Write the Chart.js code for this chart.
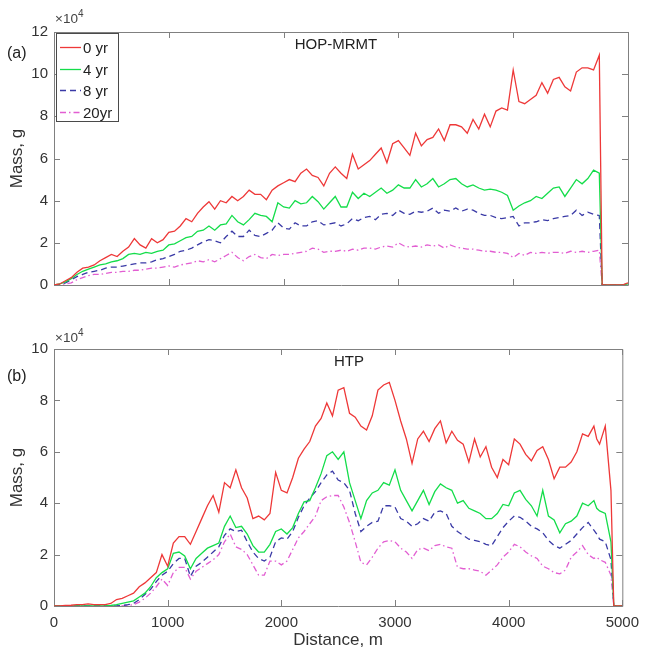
<!DOCTYPE html>
<html>
<head>
<meta charset="utf-8">
<script src="https://cdn.jsdelivr.net/npm/chart.js@4.4.0/dist/chart.umd.min.js"></script>
<style>
  body { margin: 0; background: #fff; }
  #wrap { position: relative; width: 647px; height: 656px; font-family: "Liberation Sans", Arial, sans-serif; color: #333; }
  #wrap canvas { position: absolute; left: 0; }
  .lbl { position: absolute; white-space: nowrap; line-height: 1; }
  .mid { transform: translateX(-50%); }
  .exp { font-size: 10px; position: relative; top: -6px; }
</style>
</head>
<body>
<div id="wrap">
  <canvas id="hopChart" width="647" height="300" style="top:0"></canvas>
  <canvas id="htpChart" width="647" height="336" style="top:320px"></canvas>
  <div class="lbl" style="left:7px;top:45px;font-size:16px;color:#222">(a)</div>
  <div class="lbl" style="left:55px;top:12px;font-size:13.5px;color:#444">×10<span class="exp">4</span></div>
  <div class="lbl mid" style="left:336px;top:36px;font-size:15px;color:#222">HOP-MRMT</div>
  <div class="lbl" style="left:7px;top:368px;font-size:16px;color:#222">(b)</div>
  <div class="lbl" style="left:55px;top:331px;font-size:13.5px;color:#444">×10<span class="exp">4</span></div>
  <div class="lbl mid" style="left:349px;top:353px;font-size:15px;color:#222">HTP</div>
</div>
<script>
// distance along the profile, m
const distance = [
  0, 50, 100, 150, 200, 250, 300, 350, 400, 450,
  500, 550, 600, 650, 700, 750, 800, 850, 900, 950,
  1000, 1050, 1100, 1150, 1200, 1250, 1300, 1350, 1400, 1450,
  1500, 1550, 1600, 1650, 1700, 1750, 1800, 1850, 1900, 1950,
  2000, 2050, 2100, 2150, 2200, 2250, 2300, 2350, 2400, 2450,
  2500, 2550, 2600, 2650, 2700, 2750, 2800, 2850, 2900, 2950,
  3000, 3050, 3100, 3150, 3200, 3250, 3300, 3350, 3400, 3450,
  3500, 3550, 3600, 3650, 3700, 3750, 3800, 3850, 3900, 3950,
  4000, 4050, 4100, 4150, 4200, 4250, 4300, 4350, 4400, 4450,
  4500, 4550, 4600, 4650, 4700, 4750, 4775, 4800, 4850, 4900, 4925, 4950, 5000
];

const seriesLabels = ['0 yr', '4 yr', '8 yr', '20yr'];

// (a) HOP-MRMT, mass in units of 1e4 g
const hop0 = [
  0, 0.05, 0.2, 0.35, 0.6, 0.8, 0.85, 0.95, 1.15, 1.3,
  1.45, 1.35, 1.6, 1.8, 2.2, 1.9, 1.75, 2.2, 2.0, 2.15,
  2.5, 2.55, 2.8, 3.15, 3.0, 3.4, 3.7, 3.95, 3.6, 4.0,
  3.9, 4.2, 4.0, 4.2, 4.5, 4.3, 4.3, 4.05, 4.5, 4.7,
  4.85, 5.0, 4.9, 5.3, 5.5, 5.2, 5.1, 4.7, 5.3, 5.6,
  5.3, 5.05, 6.2, 5.5, 5.7, 5.9, 6.2, 6.5, 5.8, 6.7,
  6.85, 6.5, 6.15, 7.2, 6.6, 6.9, 7.0, 7.4, 6.85, 7.6,
  7.6, 7.5, 7.2, 7.85, 7.4, 8.1, 7.5, 8.25, 8.4, 8.3,
  10.2, 8.7, 8.6, 8.8, 9.0, 9.6, 9.1, 9.75, 9.85, 9.4,
  9.2, 10.1, 10.3, 10.3, 10.2, 10.9, 0, 0, 0, 0, 0, 0, 0.1
];
const hop4 = [
  0, 0.05, 0.15, 0.3, 0.5, 0.65, 0.75, 0.85, 0.95, 1.0,
  1.1, 1.15, 1.25, 1.45, 1.5, 1.45, 1.55, 1.5, 1.6, 1.65,
  1.9, 1.95, 2.1, 2.25, 2.3, 2.55, 2.6, 2.8, 2.6, 2.85,
  2.9, 3.3, 3.0, 2.85, 3.1, 3.4, 3.3, 3.25, 3.0, 3.9,
  3.7, 3.65, 4.0, 3.85, 3.9, 4.2, 3.95, 3.6, 3.9, 4.2,
  3.7, 3.7, 4.4, 4.1, 4.35, 4.2, 4.4, 4.6, 4.35, 4.5,
  4.75, 4.6, 4.6, 5.0, 4.65, 4.8, 5.05, 4.65, 4.8, 5.0,
  5.05, 4.8, 4.65, 4.75, 4.6, 4.5, 4.55, 4.5, 4.4, 4.25,
  3.55, 3.75, 3.9, 4.0, 4.2, 4.1, 4.35, 4.6, 4.65, 4.2,
  4.6, 5.0, 4.8, 5.05, 5.45, 5.3, 0, 0, 0, 0, 0, 0, 0.05
];
const hop8 = [
  0, 0.03, 0.1, 0.25, 0.4, 0.5, 0.6, 0.65, 0.7, 0.8,
  0.85, 0.85, 0.9, 0.95, 1.0, 1.05, 1.05, 1.1, 1.2, 1.25,
  1.35, 1.45, 1.6, 1.65, 1.75, 1.9, 2.05, 2.15, 2.1, 2.0,
  2.3, 2.55, 2.3, 2.3, 2.6, 2.35, 2.3, 2.45, 2.6, 2.95,
  2.7, 2.65, 2.95, 2.8, 2.8, 3.0, 3.05, 2.85, 2.9, 2.95,
  2.8, 2.9, 3.15, 3.05, 3.2, 3.25, 3.1, 3.35, 3.4, 3.3,
  3.55, 3.4, 3.35, 3.5, 3.45, 3.5, 3.65, 3.4, 3.55, 3.5,
  3.65, 3.5, 3.6, 3.55, 3.4, 3.3, 3.3, 3.2, 3.15, 3.2,
  3.25, 2.8, 2.95, 2.95, 3.0, 3.1, 3.05, 3.15, 3.2, 3.25,
  3.3, 3.55, 3.3, 3.45, 3.35, 3.3, 0, 0, 0, 0, 0, 0, 0.05
];
const hop20 = [
  0, 0.02, 0.05, 0.1, 0.25, 0.35, 0.45, 0.5, 0.5, 0.55,
  0.6, 0.6, 0.65, 0.65, 0.7, 0.7, 0.75, 0.8, 0.8, 0.85,
  0.9, 0.85, 0.95, 1.0, 1.05, 1.15, 1.1, 1.2, 1.1, 1.25,
  1.4, 1.55, 1.3, 1.15, 1.35, 1.45, 1.3, 1.25, 1.45, 1.4,
  1.45, 1.45, 1.5, 1.55, 1.6, 1.75, 1.7, 1.55, 1.6, 1.6,
  1.65, 1.6, 1.7, 1.65, 1.75, 1.75, 1.7, 1.8, 1.85, 1.8,
  2.0, 1.85, 1.8, 1.85, 1.8, 1.9, 1.85, 1.9, 1.75, 1.9,
  1.8, 1.75, 1.7, 1.7, 1.65, 1.6, 1.6, 1.55, 1.55, 1.5,
  1.3, 1.5, 1.4, 1.55, 1.5, 1.55, 1.5, 1.55, 1.55, 1.5,
  1.6, 1.55, 1.6, 1.55, 1.6, 1.65, 0, 0, 0, 0, 0, 0, 0.05
];

// (b) HTP, mass in units of 1e4 g
const htp0 = [
  0, 0, 0.02, 0.03, 0.05, 0.05, 0.08, 0.05, 0.05, 0.05,
  0.1, 0.25, 0.3, 0.4, 0.5, 0.75, 0.9, 1.1, 1.3, 2.0,
  1.55, 2.45, 2.7, 2.7, 2.4, 2.9, 3.4, 3.9, 4.3, 3.65,
  4.8, 4.6, 5.3, 4.6, 4.2, 3.4, 3.5, 3.35, 3.6, 5.2,
  4.5, 4.4, 5.0, 5.75, 6.1, 6.4, 7.0, 7.3, 7.9, 7.4,
  8.4, 8.5, 7.5, 7.35, 7.0, 6.85, 7.4, 8.4, 8.6, 8.7,
  8.0, 7.2, 6.5, 5.55, 6.5, 6.8, 6.4, 6.9, 7.2, 6.35,
  6.8, 6.45, 6.3, 5.6, 6.5, 5.8, 6.2, 5.4, 5.0, 5.7,
  5.5, 6.5, 6.3, 5.9, 5.65, 6.05, 6.2, 5.7, 4.95, 5.4,
  5.4, 5.6, 6.0, 6.7, 6.6, 7.0, 6.5, 6.3, 7.0, 4.5, 0, 0, 0
];
const htp4 = [
  0, 0, 0, 0, 0, 0, 0, 0, 0, 0,
  0.02, 0.05, 0.1, 0.15, 0.2, 0.35, 0.5, 0.75, 1.1, 1.3,
  1.45, 2.05, 2.1, 1.95, 1.45, 1.85, 2.05, 2.25, 2.35, 2.45,
  3.1, 3.5, 3.05, 3.1, 2.8, 2.35, 2.1, 2.1, 2.4, 2.9,
  3.0, 2.8, 3.05, 3.6, 4.05, 4.1, 4.6, 5.15, 5.85, 6.0,
  5.7, 6.0, 4.8, 4.1, 3.4, 4.1, 4.4, 4.5, 4.8, 4.7,
  5.3, 4.5, 4.1, 3.7, 4.1, 4.5, 3.95, 4.45, 4.75, 4.6,
  4.5, 4.0, 4.1, 3.8, 3.7, 3.6, 3.4, 3.4, 3.6, 3.95,
  3.9, 4.4, 4.5, 4.15, 3.9, 3.5, 4.5, 3.5, 3.35, 2.85,
  3.2, 3.3, 3.5, 4.0, 3.9, 4.1, 3.8, 3.7, 3.6, 2.5, 0, 0, 0
];
const htp8 = [
  0, 0, 0, 0, 0, 0, 0, 0, 0, 0,
  0, 0, 0.02, 0.05, 0.1, 0.25, 0.45, 0.65, 0.95, 1.2,
  1.35, 1.65, 1.85, 1.85, 1.15, 1.55, 1.7, 1.9, 2.1, 2.3,
  2.75, 3.0, 2.9, 2.95, 2.5, 2.1, 1.85, 1.75, 1.9, 2.5,
  2.65, 2.6, 2.9, 3.45, 3.9, 4.2, 4.45, 4.8, 5.1, 5.25,
  4.9, 4.8, 4.5, 3.6, 2.9, 3.1, 3.25, 3.3, 3.9, 3.9,
  3.85, 3.4, 3.3, 3.1, 3.2, 3.4, 3.3, 3.65, 3.7, 3.6,
  3.1, 2.9, 2.75, 2.6, 2.55, 2.5, 2.4, 2.35, 2.7, 3.05,
  3.3, 3.5, 3.45, 3.3, 3.1, 3.0, 2.85, 2.55, 2.35, 2.25,
  2.4, 2.55, 2.8, 3.05, 3.25, 2.95, 2.8, 2.6, 2.5, 1.8, 0, 0, 0
];
const htp20 = [
  0, 0, 0, 0, 0, 0, 0, 0, 0, 0,
  0, 0, 0, 0.02, 0.05, 0.15, 0.3, 0.5, 0.75, 1.05,
  0.8, 1.3, 1.5, 1.5, 1.05, 1.35, 1.5, 1.65, 1.8, 2.0,
  2.5, 2.8, 2.3, 2.2, 2.0, 1.6, 1.2, 1.2, 1.75, 1.75,
  1.6, 1.75, 2.2, 2.65, 2.9, 3.2, 3.5, 4.1, 4.25, 4.3,
  4.3, 3.85, 3.25, 2.5, 1.7, 1.6, 1.9, 2.25, 2.5, 2.55,
  2.5, 2.25, 2.1, 1.85, 2.2, 2.25, 2.15, 2.35, 2.4, 2.3,
  2.25, 1.5, 1.45, 1.45, 1.4, 1.35, 1.2, 1.4, 1.6, 1.9,
  2.1, 2.4, 2.3, 2.1, 1.95, 1.85, 1.55, 1.45, 1.3, 1.25,
  1.4, 1.9, 2.1, 2.35, 2.0, 1.85, 1.9, 1.8, 1.7, 1.2, 0, 0, 0
];

const lineColors = ['#ee3838', '#14dd4a', '#3a3aa6', '#e25ed2'];
const lineDashes = [[], [], [6, 4], [6, 3, 1.5, 3]];

Chart.defaults.font.family = '"Liberation Sans", Arial, sans-serif';
Chart.defaults.color = '#333';

// MATLAB style box with inward tick marks
const matlabBox = {
  id: 'matlabBox',
  beforeDatasetsDraw(chart) {
    const { ctx, chartArea: a, scales: { x, y } } = chart;
    ctx.save();
    ctx.strokeStyle = '#808080';
    ctx.lineWidth = 1;
    ctx.beginPath();
    x.ticks.forEach(t => {
      const px = Math.round(x.getPixelForValue(t.value)) + 0.5;
      ctx.moveTo(px, a.bottom); ctx.lineTo(px, a.bottom - 6);
      ctx.moveTo(px, a.top); ctx.lineTo(px, a.top + 6);
    });
    y.ticks.forEach(t => {
      const py = Math.round(y.getPixelForValue(t.value)) + 0.5;
      ctx.moveTo(a.left, py); ctx.lineTo(a.left + 6, py);
      ctx.moveTo(a.right, py); ctx.lineTo(a.right - 6, py);
    });
    ctx.rect(a.left + 0.5, a.top + 0.5, a.right - a.left, a.bottom - a.top);
    ctx.stroke();
    ctx.restore();
  }
};

// legend box in the top-left corner of panel (a)
const boxLegend = {
  id: 'boxLegend',
  afterDatasetsDraw(chart) {
    const { ctx, chartArea: a } = chart;
    const x0 = a.left + 2, y0 = a.top + 1, w = 62, h = 88;
    ctx.save();
    ctx.fillStyle = '#fff';
    ctx.fillRect(x0, y0, w, h);
    ctx.strokeStyle = '#4a4a4a';
    ctx.lineWidth = 1;
    ctx.strokeRect(x0 + 0.5, y0 + 0.5, w, h);
    ctx.font = '15px "Liberation Sans", Arial, sans-serif';
    ctx.textBaseline = 'middle';
    chart.data.datasets.forEach((ds, i) => {
      const cy = Math.round(y0 + 14 + i * 21.7) + 0.5;
      ctx.strokeStyle = ds.borderColor;
      ctx.lineWidth = ds.borderWidth;
      ctx.setLineDash(ds.borderDash);
      ctx.beginPath();
      ctx.moveTo(x0 + 4, cy);
      ctx.lineTo(x0 + 25, cy);
      ctx.stroke();
      ctx.setLineDash([]);
      ctx.fillStyle = '#222';
      ctx.fillText(ds.label, x0 + 27, cy + 1);
    });
    ctx.restore();
  }
};

function makeDatasets(series) {
  return series.map((vals, i) => ({
    label: seriesLabels[i],
    data: distance.map((d, k) => ({ x: d, y: vals[k] })),
    borderColor: lineColors[i],
    borderWidth: 1.3,
    borderDash: lineDashes[i],
    pointRadius: 0,
    tension: 0,
    fill: false
  }));
}

function makeOptions(yMax, showX, pad) {
  return {
    responsive: false,
    animation: false,
    layout: { padding: pad },
    plugins: { legend: { display: false }, tooltip: { enabled: false } },
    scales: {
      x: {
        type: 'linear', min: 0, max: 5000,
        ticks: { display: showX, stepSize: 1000, padding: 8, color: '#333', font: { size: 15 }, maxRotation: 0,
                 callback: v => String(v) },
        grid: { display: false, drawTicks: false },
        border: { display: false },
        title: { display: showX, text: 'Distance, m', color: '#333', font: { size: 17 }, padding: { top: 0, bottom: 5 } },
        afterFit(s) { s.height = showX ? 50 : 0; }
      },
      y: {
        min: 0, max: yMax,
        ticks: { stepSize: 2, padding: 6, color: '#333', font: { size: 15 }, callback: v => String(v) },
        grid: { display: false, drawTicks: false },
        border: { display: false },
        title: { display: true, text: 'Mass, g', color: '#333', font: { size: 17 }, padding: { top: 7, bottom: 0 } },
        afterFit(s) { s.width = 54; }
      }
    }
  };
}

new Chart(document.getElementById('hopChart').getContext('2d'), {
  type: 'line',
  data: { datasets: makeDatasets([hop0, hop4, hop8, hop20]) },
  options: makeOptions(12, false, { top: 32, right: 19, bottom: 11, left: 0 }),
  plugins: [matlabBox, boxLegend]
});

new Chart(document.getElementById('htpChart').getContext('2d'), {
  type: 'line',
  data: { datasets: makeDatasets([htp0, htp4, htp8, htp20]) },
  options: makeOptions(10, true, { top: 29, right: 19, bottom: 0, left: 0 }),
  plugins: [matlabBox]
});
</script>
</body>
</html>
